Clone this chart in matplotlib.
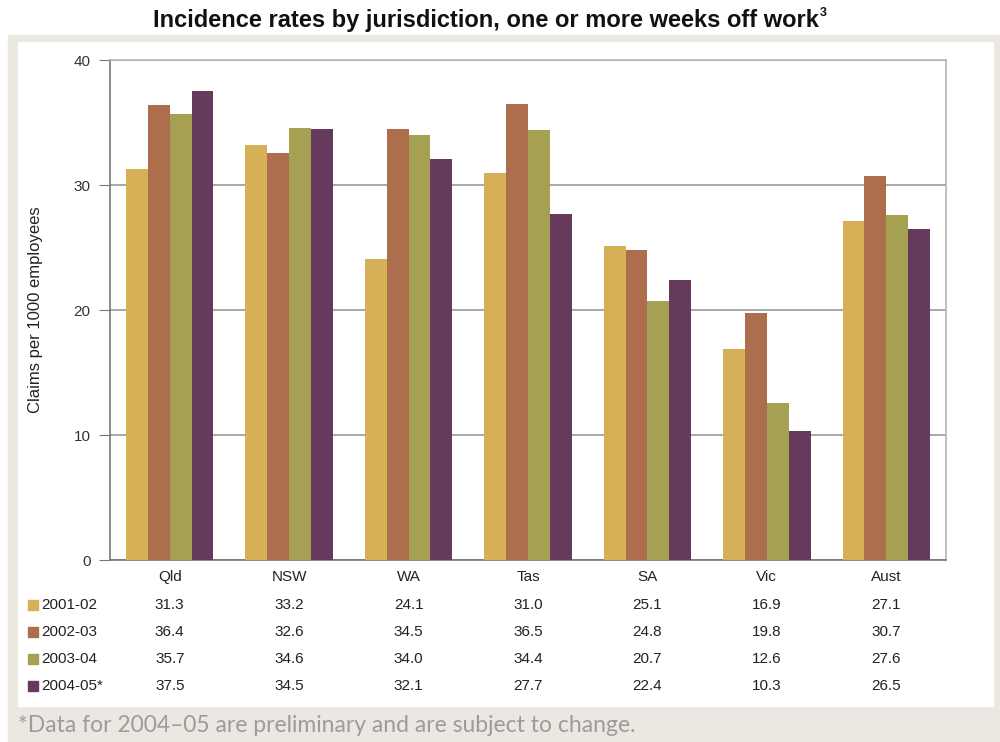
import numpy as np
import matplotlib
matplotlib.use("Agg")
import matplotlib.pyplot as plt
import matplotlib.transforms as mtransforms
from matplotlib.patches import Rectangle

# Data
CATEGORIES = ["Qld", "NSW", "WA", "Tas", "SA", "Vic", "Aust"]
SERIES = ["2001-02", "2002-03", "2003-04", "2004-05*"]
V_2001 = [31.3, 33.2, 24.1, 31.0, 25.1, 16.9, 27.1]
V_2002 = [36.4, 32.6, 34.5, 36.5, 24.8, 19.8, 30.7]
V_2003 = [35.7, 34.6, 34.0, 34.4, 20.7, 12.6, 27.6]
V_2004 = [37.5, 34.5, 32.1, 27.7, 22.4, 10.3, 26.5]
Y_TICKS = [0, 10, 20, 30, 40]

COLORS = ["#D5B056", "#AC6E4C", "#A6A152", "#653A5D"]
BEIGE = "#EBE8E1"

plt.rcParams["font.family"] = ["Liberation Sans", "DejaVu Sans"]

W, H = 1000, 742
fig = plt.figure(figsize=(W / 100, H / 100), dpi=100)


def px(x0, y0, x1, y1):
    # pixel box (top-left origin) -> figure fraction rect
    return [x0 / W, 1 - y1 / H, (x1 - x0) / W, (y1 - y0) / H]


# background panels
fig.patches.append(Rectangle((8 / W, 0), (W - 8) / W, 1 - 35 / H,
                             transform=fig.transFigure, color=BEIGE, zorder=-10))
r = px(18, 42, 993, 706)
fig.patches.append(Rectangle((r[0], r[1]), r[2], r[3],
                             transform=fig.transFigure, color="white", zorder=-9))

ax = fig.add_axes(px(110, 60, 946, 560))

values = [V_2001, V_2002, V_2003, V_2004]
x = np.arange(len(CATEGORIES))
bw = 0.183
for i, (vals, col) in enumerate(zip(values, COLORS)):
    ax.bar(x + (i - 1.5) * bw, vals, width=bw, color=col, zorder=3)

ax.set_xlim(-0.5, len(CATEGORIES) - 0.5)
ax.set_ylim(0, 40)
ax.set_yticks(Y_TICKS)
ax.yaxis.grid(True, color="#9a9a9a", linewidth=1.2, zorder=0)
ax.set_axisbelow(True)
ax.set_xticks(x)
ax.set_xticklabels(CATEGORIES, fontsize=11, color="#222222")
ax.tick_params(axis="x", length=0, pad=7)
ax.tick_params(axis="y", length=8, color="#777777", labelsize=11,
               labelcolor="#333333", pad=6, direction="out")
for s in ["left", "bottom"]:
    ax.spines[s].set_color("#777777")
    ax.spines[s].set_linewidth(1.2)
for s in ["right", "top"]:
    ax.spines[s].set_color("#b5b5b5")
    ax.spines[s].set_linewidth(1.2)
ax.set_ylabel("Claims per 1000 employees", fontsize=12, color="#222222",
              labelpad=22)

# data table below the chart
trans = mtransforms.blended_transform_factory(ax.transData, fig.transFigure)
row_y = [605, 632, 659, 686]
for i, (name, vals, col) in enumerate(zip(SERIES, values, COLORS)):
    yf = 1 - row_y[i] / H
    fig.patches.append(Rectangle((28 / W, yf - 5 / H), 10 / W, 10 / H,
                                 transform=fig.transFigure, color=col))
    fig.text(41 / W, yf, name, fontsize=11, color="#222222",
             ha="left", va="center")
    for xi, v in zip(x, vals):
        ax.text(xi, yf, f"{v:.1f}", transform=trans, fontsize=11,
                color="#222222", ha="center", va="center", clip_on=False)

# title with a small superscript
title = fig.text(0.486, 1 - 20 / H,
                 "Incidence rates by jurisdiction, one or more weeks off work",
                 fontsize=17, fontweight="bold", ha="center", va="center",
                 color="#111111")
fig.canvas.draw()
bb = title.get_window_extent()
fig.text((bb.x1 + 1) / W, (bb.y1 + 1) / H, "3", fontsize=9,
         fontweight="bold", ha="left", va="top", color="#111111")

fig.text(18 / W, 1 - 726 / H,
         "*Data for 2004\u201305 are preliminary and are subject to change.",
         fontsize=16.5, color="#9c9c9c", ha="left", va="center",
         family=["Lato", "DejaVu Sans"])

fig.savefig("out.png", dpi=100)
